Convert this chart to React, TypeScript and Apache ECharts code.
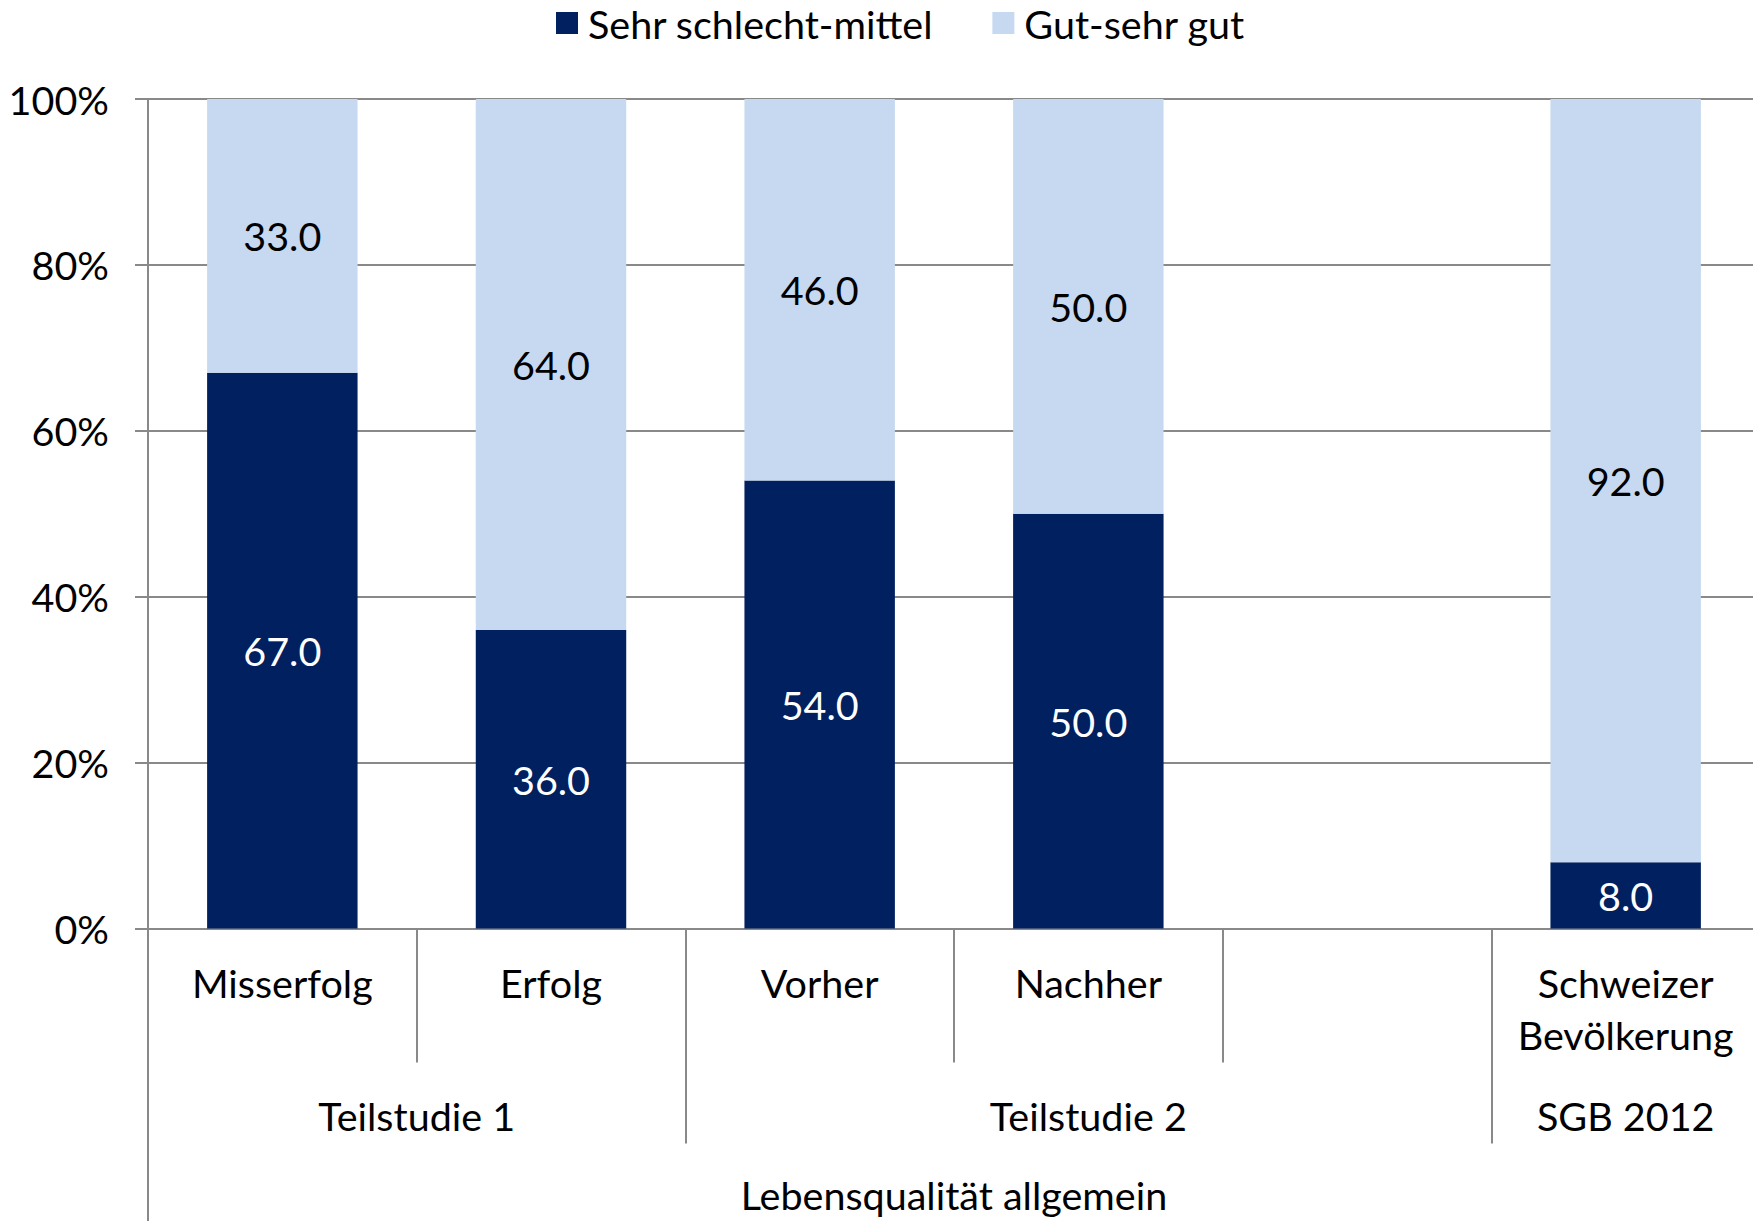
import React, { useEffect, useRef } from "react";
import * as echarts from "echarts";

const categories = ["Misserfolg", "Erfolg", "Vorher", "Nachher", "", "Schweizer\nBevölkerung"];
const schlechtValues: (number | null)[] = [67, 36, 54, 50, null, 8];
const gutValues: (number | null)[] = [33, 64, 46, 50, null, 92];
const seriesNames = ["Sehr schlecht-mittel", "Gut-sehr gut"];
const groupLabels = ["Teilstudie 1", "Teilstudie 2", "SGB 2012"];
const groupCenters = [1, 3.5, 5.5];
const groupBoundaries = [2, 5];
const topLabel = "Lebensqualität allgemein";
const topCenter = [3];

const FONT = "Lato";
const FS = 39.5;
const GRAY = "#898989";
const DARK = "#002060";
const LIGHT = "#C6D9F1";

export default function App() {
  const ref = useRef<HTMLDivElement>(null);
  useEffect(() => {
    if (!ref.current) return;
    const chart = echarts.init(ref.current, null, { renderer: "svg" });
    const lbl = (color: string) => ({
      show: true,
      position: "inside",
      color,
      fontFamily: FONT,
      fontSize: FS,
      formatter: (p: any) => (p.value == null ? "" : Number(p.value).toFixed(1)),
    });
    chart.setOption({
      animation: false,
      backgroundColor: "#ffffff",
      textStyle: { fontFamily: FONT, color: "#000" },
      legend: {
        data: seriesNames,
        top: -2,
        left: 551,
        icon: "rect",
        itemWidth: 22,
        itemHeight: 22,
        itemGap: 59,
        textStyle: { fontFamily: FONT, fontSize: FS, color: "#000", padding: [0, 0, 0, 5] },
      },
      grid: { left: 148, right: -7, top: 99, bottom: 292.5, containLabel: false, outerBoundsMode: "none" },
      xAxis: [
        {
          type: "category",
          data: categories,
          position: "bottom",
          offset: 0,
          axisLine: { show: true, lineStyle: { color: GRAY, width: 2 } },
          axisTick: { show: true, interval: 0, length: 134, lineStyle: { color: GRAY, width: 2 } },
          axisLabel: { interval: 0, margin: 28, fontFamily: FONT, fontSize: FS, lineHeight: 52, color: "#000" },
          splitLine: { show: false },
        },
        {
          type: "value",
          min: 0,
          max: 6,
          position: "bottom",
          offset: 0,
          axisLine: { show: false },
          axisTick: { show: true, customValues: groupBoundaries, length: 215, lineStyle: { color: GRAY, width: 2 } },
          axisLabel: {
            show: true,
            customValues: groupCenters,
            margin: 161,
            fontFamily: FONT,
            fontSize: FS,
            lineHeight: 52,
            color: "#000",
            formatter: (v: number) => groupLabels[groupCenters.indexOf(v)] ?? "",
          },
          splitLine: { show: false },
        },
        {
          type: "value",
          min: 0,
          max: 6,
          position: "bottom",
          offset: 0,
          axisLine: { show: false },
          axisTick: { show: true, customValues: [0], length: 300, lineStyle: { color: GRAY, width: 2 } },
          axisLabel: {
            show: true,
            customValues: topCenter,
            margin: 240,
            fontFamily: FONT,
            fontSize: FS,
            lineHeight: 52,
            color: "#000",
            formatter: (v: number) => (v === topCenter[0] ? topLabel : ""),
          },
          splitLine: { show: false },
        },
      ],
      yAxis: {
        type: "value",
        min: 0,
        max: 100,
        interval: 20,
        axisLine: { show: true, lineStyle: { color: GRAY, width: 2 } },
        axisTick: { show: true, length: 13, lineStyle: { color: GRAY, width: 2 } },
        axisLabel: { formatter: "{value}%", margin: 39, fontFamily: FONT, fontSize: FS, color: "#000" },
        splitLine: { show: true, lineStyle: { color: GRAY, width: 2 } },
      },
      series: [
        {
          name: seriesNames[0],
          type: "bar",
          stack: "total",
          xAxisIndex: 0,
          data: schlechtValues,
          barCategoryGap: "44%",
          itemStyle: { color: DARK },
          label: lbl("#ffffff"),
        },
        {
          name: seriesNames[1],
          type: "bar",
          stack: "total",
          xAxisIndex: 0,
          data: gutValues,
          barCategoryGap: "44%",
          itemStyle: { color: LIGHT },
          label: lbl("#000000"),
        },
      ],
    });
    return () => chart.dispose();
  }, []);
  return (
    <div
      ref={ref}
      style={{ position: "absolute", left: 0, top: 0, width: "1753px", height: "1221px", background: "#fff" }}
    />
  );
}
